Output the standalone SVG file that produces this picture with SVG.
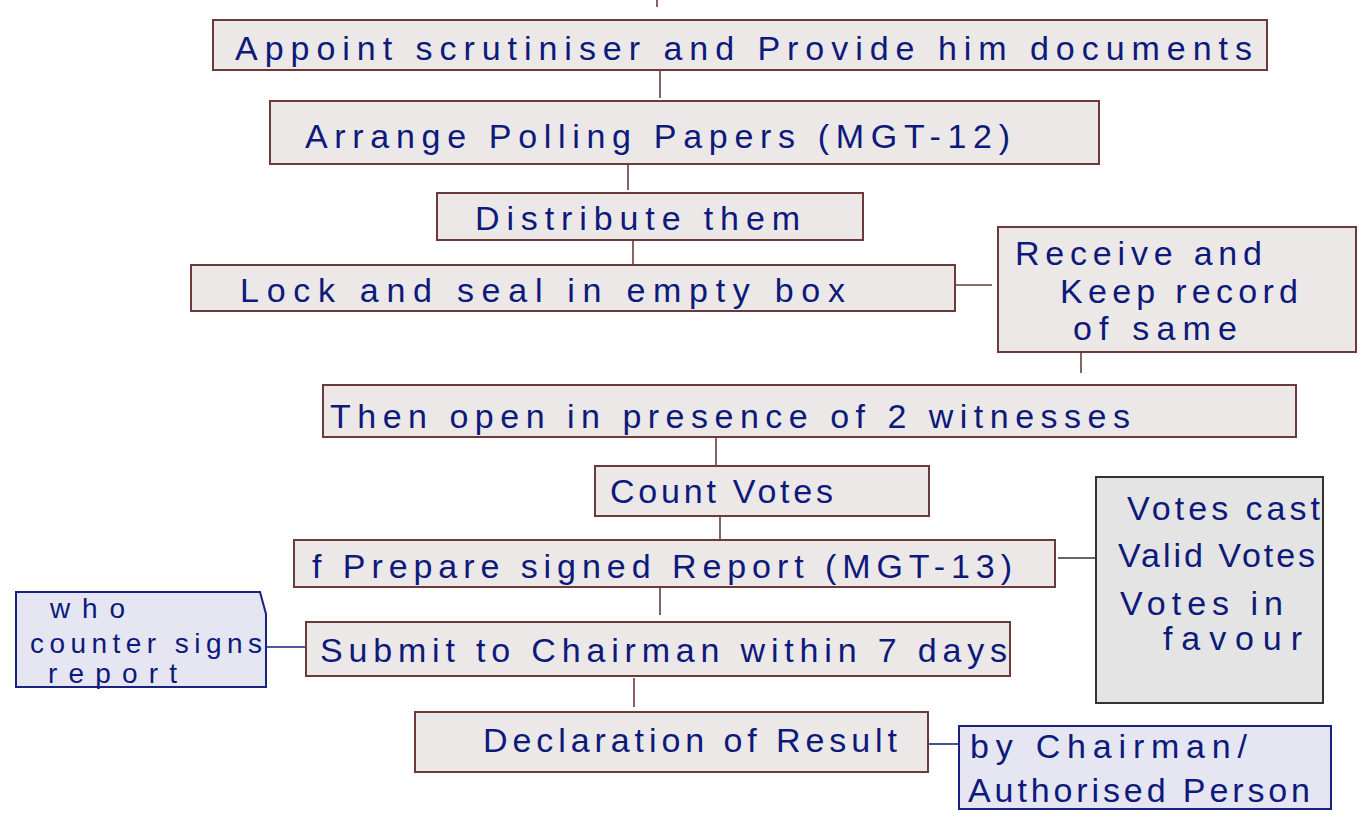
<svg xmlns="http://www.w3.org/2000/svg" width="1367" height="821" viewBox="0 0 1367 821">
<style>
.b{fill:#ece8e8;stroke:#6b3a3a;stroke-width:2}
.g{fill:#e4e4e4;stroke:#333333;stroke-width:2}
.n{fill:#e6e6f2;stroke:#1a2280;stroke-width:2}
.t{font-family:"Liberation Sans",Arial,sans-serif;font-size:34px;fill:#0d1a7a}
.s{font-size:28px}
.cb{stroke:#6b3a3a;stroke-width:1.6;fill:none}
.cn{stroke:#1a2280;stroke-width:1.6;fill:none}
.cg{stroke:#333333;stroke-width:1.6;fill:none}
</style>
<rect width="1367" height="821" fill="#ffffff"/>
<g id="connectors">
<line class="cb" x1="657" y1="0" x2="657" y2="7"/>
<line class="cb" x1="660" y1="70" x2="660" y2="98"/>
<line class="cb" x1="628" y1="164" x2="628" y2="190"/>
<line class="cb" x1="633" y1="240" x2="633" y2="264"/>
<line class="cb" x1="955" y1="285" x2="992" y2="285"/>
<line class="cb" x1="1081" y1="352" x2="1081" y2="373"/>
<line class="cb" x1="716" y1="437" x2="716" y2="466"/>
<line class="cb" x1="720" y1="516" x2="720" y2="540"/>
<line class="cg" x1="1058" y1="558" x2="1095" y2="558"/>
<line class="cb" x1="660" y1="587" x2="660" y2="615"/>
<line class="cn" x1="265" y1="647" x2="306" y2="647"/>
<line class="cb" x1="634" y1="678" x2="634" y2="707"/>
<line class="cn" x1="928" y1="744" x2="958" y2="744"/>
</g>
<g id="appoint"><rect class="b" x="213" y="20" width="1054" height="50"/><text class="t" x="235" y="60" textLength="1017" lengthAdjust="spacing">Appoint  scrutiniser and Provide him documents</text></g>
<g id="arrange"><rect class="b" x="270" y="101" width="829" height="63"/><text class="t" x="305" y="148" textLength="705" lengthAdjust="spacing">Arrange  Polling  Papers (MGT-12)</text></g>
<g id="distribute"><rect class="b" x="437" y="193" width="426" height="47"/><text class="t" x="475" y="230" textLength="325" lengthAdjust="spacing">Distribute them</text></g>
<g id="lock"><rect class="b" x="191" y="265" width="764" height="46"/><text class="t" x="240" y="302" textLength="605" lengthAdjust="spacing">Lock  and  seal in empty  box</text></g>
<g id="receive"><rect class="b" x="998" y="227" width="358" height="125"/>
<text class="t" x="1015" y="265" textLength="247" lengthAdjust="spacing">Receive  and</text>
<text class="t" x="1060" y="303" textLength="238" lengthAdjust="spacing">Keep record</text>
<text class="t" x="1073" y="340" textLength="164" lengthAdjust="spacing">of same</text></g>
<g id="open"><rect class="b" x="323" y="385" width="973" height="52"/><text class="t" x="330" y="428" textLength="800" lengthAdjust="spacing">Then open in presence of 2 witnesses</text></g>
<g id="count"><rect class="b" x="595" y="466" width="334" height="50"/><text class="t" x="610" y="503" textLength="223" lengthAdjust="spacing">Count Votes</text></g>
<g id="prepare"><rect class="b" x="294" y="540" width="761" height="47"/><text class="t" x="312" y="578" textLength="700" lengthAdjust="spacing">f Prepare signed Report (MGT-13)</text></g>
<g id="votes"><rect class="g" x="1096" y="477" width="227" height="226"/>
<text class="t" x="1127" y="520" textLength="193" lengthAdjust="spacing">Votes cast</text>
<text class="t" x="1118" y="567" textLength="197" lengthAdjust="spacing">Valid Votes</text>
<text class="t" x="1120" y="615" textLength="163" lengthAdjust="spacing">Votes in</text>
<text class="t" x="1163" y="650" textLength="139" lengthAdjust="spacing">favour</text></g>
<g id="who"><path class="n" d="M16 592 H260 L266 614 V687 H16 Z"/>
<text class="t s" x="50" y="618" textLength="75" lengthAdjust="spacing">who</text>
<text class="t s" x="30" y="653" textLength="232" lengthAdjust="spacing">counter signs</text>
<text class="t s" x="48" y="683" textLength="129" lengthAdjust="spacing">report</text></g>
<g id="submit"><rect class="b" x="306" y="622" width="704" height="54"/><text class="t" x="320" y="662" textLength="687" lengthAdjust="spacing">Submit to Chairman within 7 days</text></g>
<g id="declaration"><rect class="b" x="415" y="712" width="513" height="60"/><text class="t" x="483" y="752" textLength="414" lengthAdjust="spacing">Declaration of Result</text></g>
<g id="bychairman"><rect class="n" x="959" y="726" width="372" height="83"/>
<text class="t" x="970" y="758" textLength="277" lengthAdjust="spacing">by Chairman/</text>
<text class="t" x="968" y="802" textLength="342" lengthAdjust="spacing">Authorised Person</text></g>
</svg>
